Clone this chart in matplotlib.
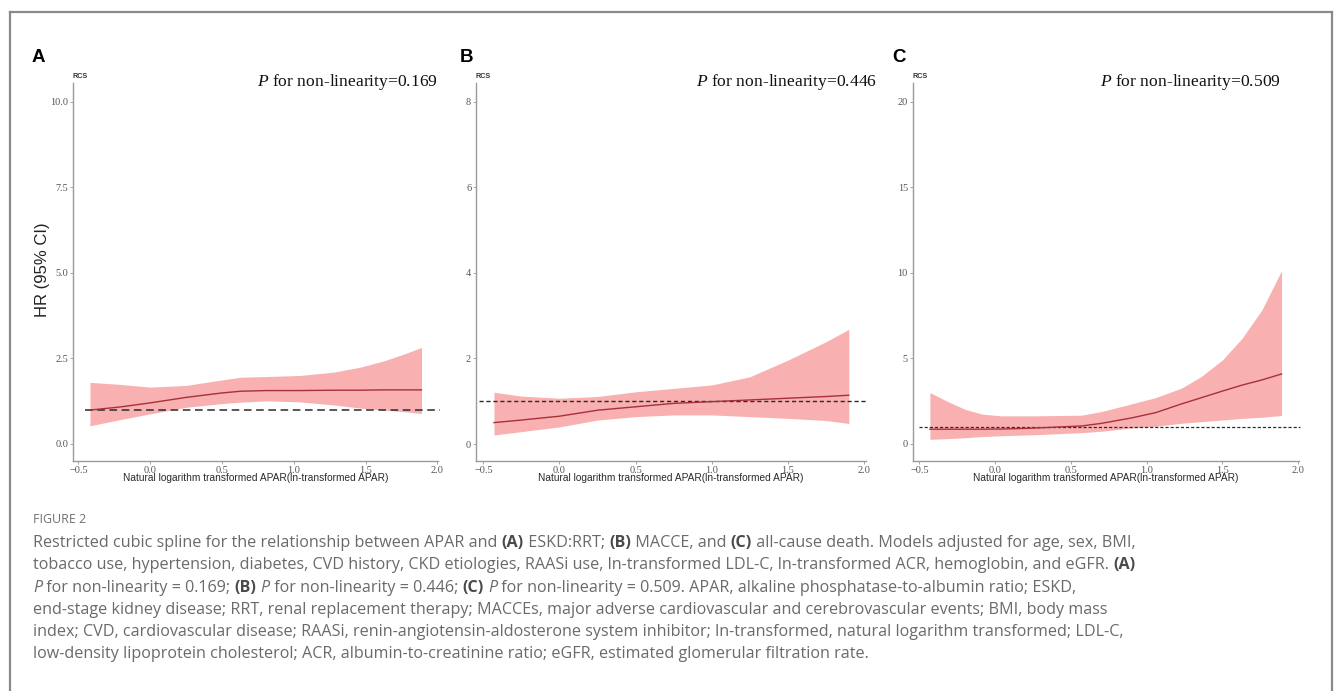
import matplotlib
matplotlib.use("Agg")
import matplotlib.pyplot as plt
from matplotlib.lines import Line2D
from matplotlib.ticker import FuncFormatter

# ---- data ----
# Panel A: ESKD:RRT
xa = [-0.42, -0.21, 0.0, 0.25, 0.50, 0.63, 0.81, 1.04, 1.28, 1.46, 1.63, 1.77, 1.89]
hr_a = [0.99, 1.08, 1.20, 1.36, 1.49, 1.54, 1.56, 1.56, 1.57, 1.57, 1.58, 1.58, 1.58]
up_a = [1.80, 1.74, 1.66, 1.71, 1.87, 1.95, 1.97, 2.00, 2.10, 2.24, 2.43, 2.63, 2.82]
lo_a = [0.53, 0.71, 0.88, 1.07, 1.18, 1.22, 1.26, 1.23, 1.14, 1.05, 0.99, 0.94, 0.89]

# Panel B: MACCE
xb = [-0.43, -0.25, 0.0, 0.25, 0.50, 0.75, 1.00, 1.25, 1.50, 1.75, 1.90]
hr_b = [0.50, 0.56, 0.65, 0.79, 0.87, 0.95, 0.99, 1.03, 1.07, 1.11, 1.14]
up_b = [1.21, 1.12, 1.07, 1.11, 1.22, 1.30, 1.38, 1.57, 1.96, 2.39, 2.68]
lo_b = [0.21, 0.29, 0.40, 0.56, 0.64, 0.68, 0.68, 0.64, 0.60, 0.55, 0.48]

# Panel C: all-cause death
xc = [-0.43, -0.31, -0.20, -0.09, 0.04, 0.24, 0.57, 0.70, 0.90, 1.06, 1.23, 1.36, 1.50,
      1.63, 1.76, 1.89]
hr_c = [0.86, 0.86, 0.86, 0.86, 0.87, 0.92, 1.05, 1.20, 1.52, 1.83, 2.34, 2.70, 3.09,
        3.44, 3.74, 4.09]
up_c = [3.00, 2.47, 2.03, 1.75, 1.64, 1.64, 1.68, 1.89, 2.34, 2.71, 3.26, 3.94, 4.91,
        6.18, 7.83, 10.13]
lo_c = [0.27, 0.31, 0.36, 0.43, 0.48, 0.53, 0.66, 0.74, 0.93, 1.03, 1.21, 1.30, 1.40,
        1.49, 1.56, 1.66]

letters = ["A", "B", "C"]
p_values = ["0.169", "0.446", "0.509"]
xticks = [-0.5, 0.0, 0.5, 1.0, 1.5, 2.0]
yticks_a = [0.0, 2.5, 5.0, 7.5, 10.0]
yticks_b = [0, 2, 4, 6, 8]
yticks_c = [0, 5, 10, 15, 20]
xlabel = "Natural logarithm transformed APAR(ln-transformed APAR)"

W, H = 1335, 691
FILL = "#F8B0B0"
LINE = "#A8303C"
SERIF = "Liberation Serif"
SANS = "Liberation Sans"
CAP_FONT = "Open Sans"
CAP_COLOR = "#6a6a6a"

plt.rcParams["mathtext.fontset"] = "custom"
plt.rcParams["mathtext.it"] = "Liberation Serif:italic"
plt.rcParams["mathtext.rm"] = "Liberation Serif"


def fx(px):
    return px / W


def fy(py):
    return 1 - py / H


def tick_fmt(spec):
    return FuncFormatter(lambda v, pos: (spec % v).replace("-", "\u2212"))


fig = plt.figure(figsize=(W / 100, H / 100), dpi=100)

# outer frame (open at the bottom, like the page crop)
for xs, ys in [((10, 10), (H + 5, 12)), ((10, 1331.5), (12, 12)), ((1331.5, 1331.5), (12, H + 5))]:
    fig.add_artist(Line2D([fx(v) for v in xs], [fy(v) for v in ys],
                          color="#8a8a8a", lw=1.6))

# axes boxes in pixels: left, right, xlim, ylim
panels = [
    dict(l=73, r=438, xlim=(-0.538, 2.005), ylim=(-0.49, 10.54), yt=yticks_a, fmt="%.1f",
         x=xa, hr=hr_a, up=up_a, lo=lo_a, dash=(0, (5, 3)), dlw=1.1, hx=(-0.455, 2.02),
         let_x=32, p_right=437),
    dict(l=476, r=866, xlim=(-0.548, 2.013), ylim=(-0.39, 8.43), yt=yticks_b, fmt="%d",
         x=xb, hr=hr_b, up=up_b, lo=lo_b, dash=(0, (3, 2)), dlw=1.0, hx=(-0.53, 2.02),
         let_x=460, p_right=877),
    dict(l=912.7, r=1299, xlim=(-0.5435, 2.005), ylim=(-0.98, 21.08), yt=yticks_c, fmt="%d",
         x=xc, hr=hr_c, up=up_c, lo=lo_c, dash=(0, (2.5, 1.6)), dlw=0.9, hx=(-0.5, 2.01),
         let_x=892, p_right=1281),
]

top_px, bot_px = 83.3, 460.7

for i, p in enumerate(panels):
    ax = fig.add_axes([fx(p["l"]), fy(bot_px), (p["r"] - p["l"]) / W, (bot_px - top_px) / H])
    ax.fill_between(p["x"], p["lo"], p["up"], color=FILL, lw=0, zorder=1)
    ax.plot(p["x"], p["hr"], color=LINE, lw=1.0, zorder=3)
    ax.hlines(1.0, p["hx"][0], p["hx"][1], colors="#2b2b2b", lw=p["dlw"],
              linestyles=[p["dash"]], zorder=2, clip_on=False)
    ax.set_xlim(*p["xlim"])
    ax.set_ylim(*p["ylim"])
    ax.set_xticks(xticks)
    ax.set_yticks(p["yt"])
    ax.xaxis.set_major_formatter(tick_fmt("%.1f"))
    ax.yaxis.set_major_formatter(tick_fmt(p["fmt"]))
    for s in ["top", "right"]:
        ax.spines[s].set_visible(False)
    for s in ["left", "bottom"]:
        ax.spines[s].set_color("#9a9a9a")
        ax.spines[s].set_linewidth(1.0)
    ax.tick_params(length=2.5, width=0.6, color="#9a9a9a", labelsize=7.4,
                   labelcolor="#555555", pad=1)
    for lab in ax.get_xticklabels() + ax.get_yticklabels():
        lab.set_family(SERIF)
    ax.set_xlabel(xlabel, fontsize=7.3, family=SANS, color="#2a2a2a", labelpad=-1)

    fig.text(fx(p["l"] + 7), fy(76), "RCS", fontsize=5.2, family=SANS, weight="bold",
             color="#333333", ha="center", va="center")
    fig.text(fx(p["r"] if i == 0 else p["p_right"]), fy(86.5),
             r"$P$ for non-linearity=" + p_values[i], fontsize=12.6, family=SERIF,
             color="#111111", ha="right", va="baseline")
    fig.text(fx(p["let_x"]), fy(62), letters[i], fontsize=13.5, family=SANS,
             weight="bold", color="black", ha="left", va="baseline")

fig.text(fx(43), fy(270), "HR (95% CI)", rotation=90, fontsize=12, family=SANS,
         color="#222222", ha="center", va="center")

# ---- caption ----
fig.text(fx(33), fy(523), "FIGURE 2", fontsize=9, family=CAP_FONT, color="#707070",
         ha="left", va="baseline")

n, b, it = "n", "b", "i"
caption_lines = [
    [("Restricted cubic spline for the relationship between APAR and ", n), ("(A)", b),
     (" ESKD:RRT; ", n), ("(B)", b), (" MACCE, and ", n), ("(C)", b),
     (" all-cause death. Models adjusted for age, sex, BMI,", n)],
    [("tobacco use, hypertension, diabetes, CVD history, CKD etiologies, RAASi use, "
      "ln-transformed LDL-C, ln-transformed ACR, hemoglobin, and eGFR. ", n), ("(A)", b)],
    [("P", it), (" for non-linearity = 0.169; ", n), ("(B)", b), (" ", n), ("P", it),
     (" for non-linearity = 0.446; ", n), ("(C)", b), (" ", n), ("P", it),
     (" for non-linearity = 0.509. APAR, alkaline phosphatase-to-albumin ratio; ESKD,", n)],
    [("end-stage kidney disease; RRT, renal replacement therapy; MACCEs, major adverse "
      "cardiovascular and cerebrovascular events; BMI, body mass", n)],
    [("index; CVD, cardiovascular disease; RAASi, renin-angiotensin-aldosterone system "
      "inhibitor; ln-transformed, natural logarithm transformed; LDL-C,", n)],
    [("low-density lipoprotein cholesterol; ACR, albumin-to-creatinine ratio; eGFR, "
      "estimated glomerular filtration rate.", n)],
]

CAP_SIZE = 11.65


def style(kind):
    if kind == b:
        return dict(weight="bold", color="#4a4a4a")
    if kind == it:
        return dict(style="italic", color=CAP_COLOR)
    return dict(color=CAP_COLOR)


renderer = fig.canvas.get_renderer()
for k, segs in enumerate(caption_lines):
    y = fy(547 + k * 22.3)
    x = fx(33)
    for txt, kind in segs:
        t = fig.text(x, y, txt, fontsize=CAP_SIZE, family=CAP_FONT, ha="left",
                     va="baseline", **style(kind))
        x = t.get_window_extent(renderer).x1 / W

fig.savefig("out.png", dpi=100, facecolor="white")
